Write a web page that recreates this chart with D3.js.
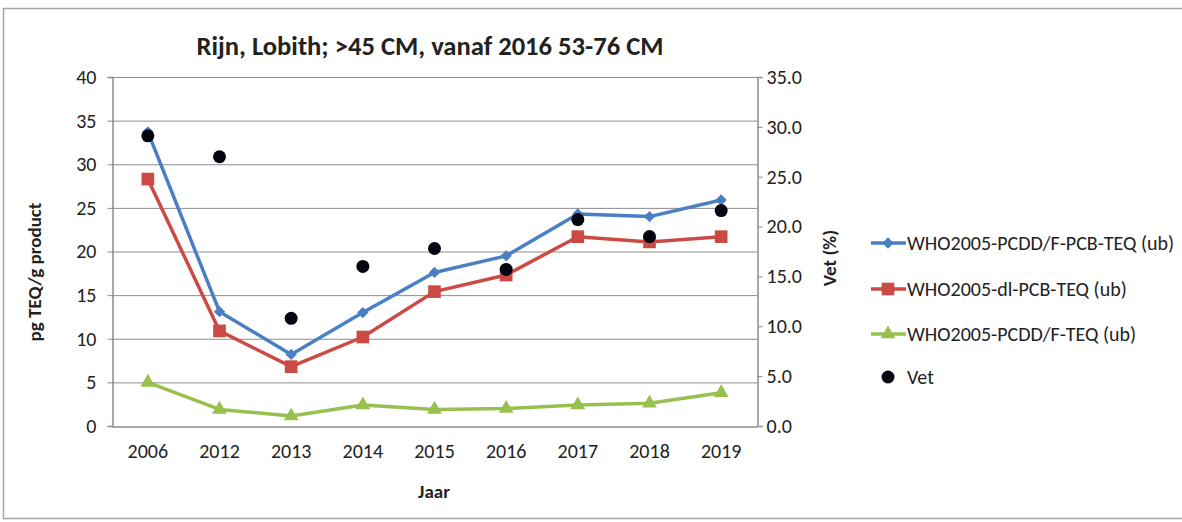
<!DOCTYPE html>
<html>
<head>
<meta charset="utf-8">
<script src="https://cdn.jsdelivr.net/npm/d3@7"></script>
<style>
  body { margin: 0; background: #fff; }
  text { font-family: Carlito, Calibri, "Open Sans", sans-serif; fill: #222; }
</style>
</head>
<body>
<svg id="chart" width="1182" height="522"></svg>
<script>
// data
var years = ['2006', '2012', '2013', '2014', '2015', '2016', '2017', '2018', '2019'];
var totalTeq = [33.7, 13.1, 8.2, 13.0, 17.6, 19.5, 24.3, 24.0, 25.9];
var dlPcbTeq = [28.3, 10.9, 6.8, 10.2, 15.4, 17.3, 21.7, 21.1, 21.7];
var pcddTeq  = [5.0, 1.9, 1.15, 2.4, 1.9, 2.0, 2.4, 2.6, 3.8];
var vet      = [29.1, 27.0, 10.8, 16.0, 17.8, 15.7, 20.7, 19.0, 21.6];
var leftTicks  = [0, 5, 10, 15, 20, 25, 30, 35, 40];
var rightTicks = [0, 5, 10, 15, 20, 25, 30, 35];

var svg = d3.select('#chart');
var plot = {left: 112, right: 757, top: 77, bottom: 426};

// outer frame
svg.append('rect')
    .attr('x', 3.5).attr('y', 8.5)
    .attr('width', 1200).attr('height', 510)
    .attr('fill', 'none').attr('stroke', '#a6a6a6').attr('stroke-width', 1.5);

var x = d3.scaleBand().domain(years).range([plot.left, plot.right]);
var yL = d3.scaleLinear().domain([0, 40]).range([plot.bottom, plot.top]);
var yR = d3.scaleLinear().domain([0, 35]).range([plot.bottom, plot.top]);

// gridlines
svg.append('g').selectAll('line')
    .data(leftTicks.slice(1))
    .enter().append('line')
    .attr('x1', plot.left).attr('x2', plot.right)
    .attr('y1', function(d) { return yL(d) + 0.5; })
    .attr('y2', function(d) { return yL(d) + 0.5; })
    .attr('stroke', '#8c8c8c').attr('stroke-width', 1);

// left axis
var gL = svg.append('g')
    .attr('transform', 'translate(' + (plot.left + 0.5) + ',0)')
    .call(d3.axisLeft(yL).tickValues(leftTicks).tickSize(5).tickPadding(11));
gL.selectAll('text').style('font-size', '20px').attr('fill', '#222');

// right axis
var gR = svg.append('g')
    .attr('transform', 'translate(' + (plot.right + 0.5) + ',0)')
    .call(d3.axisRight(yR).tickValues(rightTicks).tickSize(5).tickPadding(4)
        .tickFormat(d3.format('.1f')));
gR.selectAll('text').style('font-size', '20px').attr('fill', '#222');

// bottom axis
var gB = svg.append('g')
    .attr('transform', 'translate(0,' + (plot.bottom + 0.5) + ')')
    .call(d3.axisBottom(x).tickSize(0).tickPadding(17));
gB.selectAll('text').style('font-size', '20px').attr('fill', '#222');

svg.selectAll('.domain').attr('stroke', '#8c8c8c').attr('stroke-width', 1.5);
svg.selectAll('.tick line').attr('stroke', '#8c8c8c');

var cx = function(d, i) { return x(years[i]) + x.bandwidth() / 2; };

// diamond = square turned 45 degrees
var series = [
    {name: 'WHO2005-PCDD/F-PCB-TEQ (ub)', values: totalTeq, color: '#4a80c3', shape: d3.symbolSquare, size: 64, rot: 45},
    {name: 'WHO2005-dl-PCB-TEQ (ub)', values: dlPcbTeq, color: '#cc4a45', shape: d3.symbolSquare, size: 160, rot: 0},
    {name: 'WHO2005-PCDD/F-TEQ (ub)', values: pcddTeq, color: '#97c04f', shape: d3.symbolTriangle, size: 95, rot: 0}
];

var line = d3.line()
    .x(function(d, i) { return cx(d, i); })
    .y(function(d) { return yL(d); });

// draw in reverse so blue sits on top
series.slice().reverse().forEach(function(s) {
    var g = svg.append('g');
    g.append('path')
        .datum(s.values)
        .attr('d', line)
        .attr('fill', 'none')
        .attr('stroke', s.color)
        .attr('stroke-width', 3.5)
        .attr('stroke-linejoin', 'round');
    g.selectAll('path.mark')
        .data(s.values)
        .enter().append('path')
        .attr('class', 'mark')
        .attr('d', d3.symbol().type(s.shape).size(s.size))
        .attr('transform', function(d, i) {
            return 'translate(' + cx(d, i) + ',' + yL(d) + ') rotate(' + s.rot + ')';
        })
        .attr('fill', s.color);
});

// vet points on right axis
svg.append('g').selectAll('circle')
    .data(vet)
    .enter().append('circle')
    .attr('cx', cx)
    .attr('cy', function(d) { return yR(d); })
    .attr('r', 6.5)
    .attr('fill', '#050510');

// titles
svg.append('text')
    .attr('x', 430).attr('y', 55)
    .attr('text-anchor', 'middle')
    .attr('textLength', 467).attr('lengthAdjust', 'spacingAndGlyphs')
    .style('font-size', '26px').style('font-weight', 'bold')
    .text('Rijn, Lobith; >45 CM, vanaf 2016 53-76 CM');

svg.append('text')
    .attr('transform', 'translate(41,272) rotate(-90)')
    .attr('text-anchor', 'middle')
    .style('font-size', '19px').style('font-weight', 'bold')
    .text('pg TEQ/g product');

svg.append('text')
    .attr('transform', 'translate(836,258) rotate(-90)')
    .attr('text-anchor', 'middle')
    .style('font-size', '19px').style('font-weight', 'bold')
    .text('Vet (%)');

svg.append('text')
    .attr('x', 434).attr('y', 498)
    .attr('text-anchor', 'middle')
    .style('font-size', '19px').style('font-weight', 'bold')
    .text('Jaar');

// legend
var legendRows = [243, 289, 334];
series.forEach(function(s, i) {
    var ly = legendRows[i];
    svg.append('line')
        .attr('x1', 871).attr('x2', 906)
        .attr('y1', ly).attr('y2', ly)
        .attr('stroke', s.color).attr('stroke-width', 3.5);
    svg.append('path')
        .attr('d', d3.symbol().type(s.shape).size(s.size)())
        .attr('transform', 'translate(888,' + ly + ') rotate(' + s.rot + ')')
        .attr('fill', s.color);
    svg.append('text')
        .attr('x', 907).attr('y', ly + 7)
        .style('font-size', '20px')
        .text(s.name);
});
svg.append('circle')
    .attr('cx', 888).attr('cy', 377).attr('r', 6.5)
    .attr('fill', '#050510');
svg.append('text')
    .attr('x', 907).attr('y', 384)
    .style('font-size', '20px')
    .text('Vet');
</script>
</body>
</html>
